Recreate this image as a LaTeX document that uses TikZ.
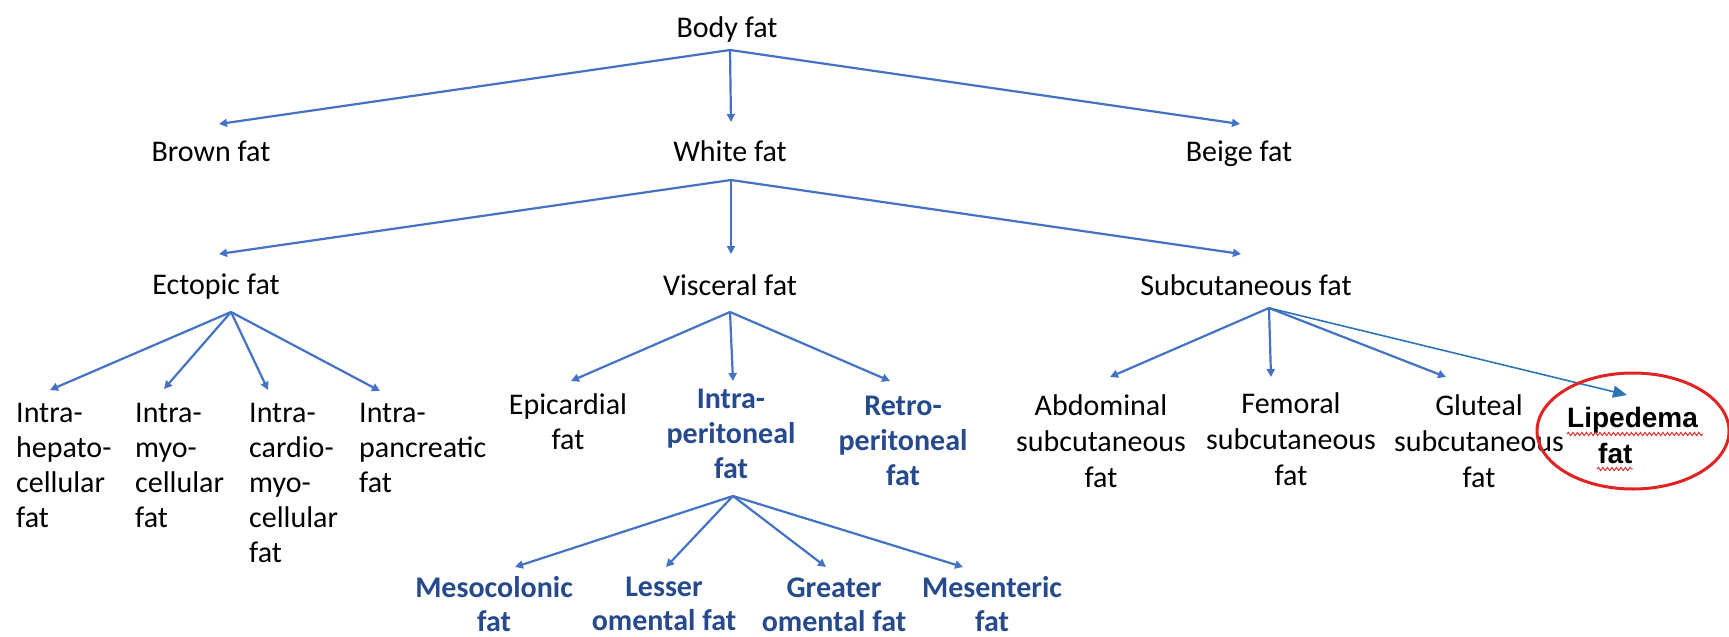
\documentclass[tikz,border=0pt]{standalone}
\usepackage{fontspec}
\setmainfont{Carlito}
\newfontfamily\lipfont{Liberation Sans}
\usetikzlibrary{arrows.meta,decorations.pathmorphing}
\definecolor{arrblue}{HTML}{4472C4}
\definecolor{lipblue}{HTML}{2E75B6}
\definecolor{txtblue}{HTML}{264A8C}
\definecolor{circred}{HTML}{E02424}
\newcommand\rowsl[1]{\begin{tabular}[t]{@{}l@{}}#1\end{tabular}}
\newcommand\rowsc[1]{\begin{tabular}[t]{@{}c@{}}#1\end{tabular}}
\begin{document}
\begin{tikzpicture}[x=1pt,y=-1pt,
  lbl/.style={inner sep=0pt, anchor=base, font=\fontsize{30}{35}\selectfont},
  lbll/.style={lbl, anchor=base west},
  blu/.style={text=txtblue, font=\fontsize{30}{35}\selectfont\bfseries},
  bot/.style={text=txtblue, font=\fontsize{30}{34}\selectfont\bfseries},
  sub/.style={font=\fontsize{30}{36}\selectfont},
  arr/.style={draw=arrblue, line width=2.2pt, -{Triangle[length=8pt,width=8pt]}},
  liparr/.style={draw=lipblue, line width=1.6pt, -{Triangle[length=14pt,width=12pt]}},
  squig/.style={draw=circred, line width=0.9pt, decorate, decoration={snake, amplitude=1.6pt, segment length=4.5pt}},
  ring/.style={draw=circred, line width=3pt}
]
\useasboundingbox (0,0) rectangle (1729,637);
\fill[white] (0,0) rectangle (1729,637);

% level 0/1
\node[lbl] (body) at (727,37) {Body fat};
\node[lbl] (brown) at (211,161) {Brown fat};
\node[lbl] (white) at (730,161) {White fat};
\node[lbl] (beige) at (1239,161) {Beige fat};

% level 2
\node[lbl] (ectopic) at (216,294) {Ectopic fat};
\node[lbl] (visceral) at (730,295) {Visceral fat};
\node[lbl] (subcut) at (1246,295) {Subcutaneous fat};

% ectopic children
\node[lbll] (hep) at (16,422) {\rowsl{Intra-\\hepato-\\cellular\\fat}};
\node[lbll] (myo) at (135,422) {\rowsl{Intra-\\myo-\\cellular\\fat}};
\node[lbll] (card) at (249,422) {\rowsl{Intra-\\cardio-\\myo-\\cellular\\fat}};
\node[lbll] (panc) at (359,422) {\rowsl{Intra-\\pancreatic\\fat}};

% visceral children
\node[lbl] (epi) at (568,414) {\rowsc{Epicardial\\fat}};
\node[lbl,blu] (intrap) at (731,408) {\rowsc{Intra-\\peritoneal\\fat}};
\node[lbl,blu] (retro) at (903,415) {\rowsc{Retro-\\peritoneal\\fat}};

% intraperitoneal children
\node[lbl,bot] (meso) at (494,597) {\rowsc{Mesocolonic\\fat}};
\node[lbl,bot] (lesser) at (664,596) {\rowsc{Lesser\\omental fat}};
\node[lbl,bot] (greater) at (834,597) {\rowsc{Greater\\omental fat}};
\node[lbl,bot] (mesent) at (992,597) {\rowsc{Mesenteric\\fat}};

% subcutaneous children
\node[lbl,sub] (abd) at (1101,415) {\rowsc{Abdominal\\subcutaneous\\fat}};
\node[lbl,sub] (fem) at (1291,413) {\rowsc{Femoral\\subcutaneous\\fat}};
\node[lbl,sub] (glut) at (1479,415) {\rowsc{Gluteal\\subcutaneous\\fat}};
\node[inner sep=0pt, anchor=base west, font=\lipfont\bfseries\fontsize{28}{36}\selectfont] (lip) at (1567,427) {\rowsl{Lipedema\\\hspace{31pt}fat}};

% junctions and tips
\coordinate (bodyJ) at (730,50);
\coordinate (brownT) at (219,124);
\coordinate (whiteT) at (731,122);
\coordinate (beigeT) at (1240,124);
\coordinate (whiteJ) at (731,180);
\coordinate (ectT) at (219,254);
\coordinate (visT) at (731,254);
\coordinate (subT) at (1241,254);
\coordinate (ectJ) at (231,312);
\coordinate (hepT) at (50,390);
\coordinate (myoT) at (164,389);
\coordinate (cardT) at (268,390);
\coordinate (pancT) at (380,391);
\coordinate (visJ) at (730,312);
\coordinate (epiT) at (571,381);
\coordinate (intrapT) at (733,381);
\coordinate (retroT) at (890,381);
\coordinate (intrapJ) at (733,496);
\coordinate (mesoT) at (515,567);
\coordinate (lesserT) at (666,567);
\coordinate (greaterT) at (826,567);
\coordinate (mesentT) at (963,567);
\coordinate (subJ) at (1269,308);
\coordinate (abdT) at (1110,377);
\coordinate (femT) at (1271,377);
\coordinate (glutT) at (1446,377);
\coordinate (lipT) at (1627,395);

\draw[arr] (bodyJ) -- (brownT);
\draw[arr] (bodyJ) -- (whiteT);
\draw[arr] (bodyJ) -- (beigeT);
\draw[arr] (whiteJ) -- (ectT);
\draw[arr] (whiteJ) -- (visT);
\draw[arr] (whiteJ) -- (subT);
\draw[arr] (ectJ) -- (hepT);
\draw[arr] (ectJ) -- (myoT);
\draw[arr] (ectJ) -- (cardT);
\draw[arr] (ectJ) -- (pancT);
\draw[arr] (visJ) -- (epiT);
\draw[arr] (visJ) -- (intrapT);
\draw[arr] (visJ) -- (retroT);
\draw[arr] (intrapJ) -- (mesoT);
\draw[arr] (intrapJ) -- (lesserT);
\draw[arr] (intrapJ) -- (greaterT);
\draw[arr] (intrapJ) -- (mesentT);
\draw[arr] (subJ) -- (abdT);
\draw[arr] (subJ) -- (femT);
\draw[arr] (subJ) -- (glutT);
\draw[liparr] (subJ) -- (lipT);

% spell-check squiggles and red ring
\draw[squig] (1567,434) -- (1703,434);
\draw[squig] (1597,469) -- (1633,469);
\draw[ring] (1633,431) ellipse [x radius=96, y radius=58];
\end{tikzpicture}
\end{document}
